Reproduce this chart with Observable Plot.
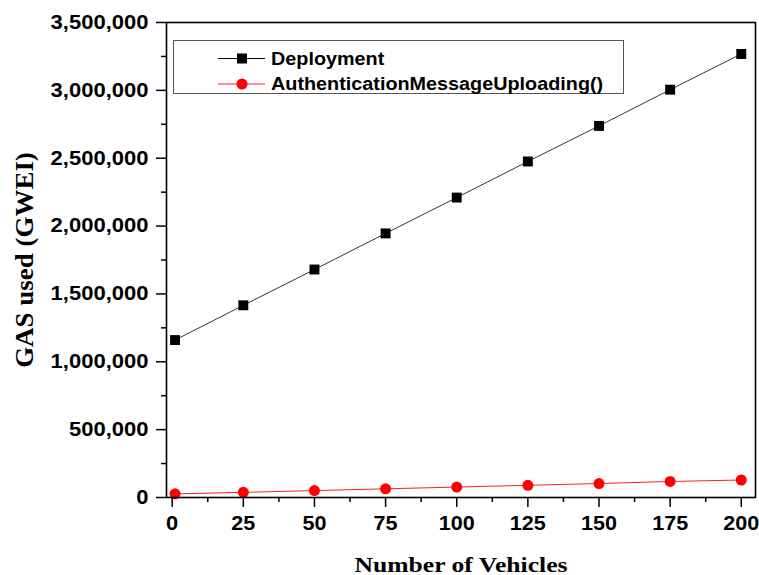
<!DOCTYPE html>
<html>
<head>
<meta charset="utf-8">
<script src="https://cdn.jsdelivr.net/npm/d3@7"></script>
<script src="https://cdn.jsdelivr.net/npm/@observablehq/plot@0.6"></script>
<style>
  html, body { margin: 0; padding: 0; background: #fff; }
  #wrap { position: relative; width: 759px; height: 575px; }
  #legend { position: absolute; left: 173px; top: 40px; width: 451px; height: 54px;
            border: 1px solid #555; box-sizing: border-box; background: #fff; }
  #legend svg { display: block; overflow: visible; }
</style>
</head>
<body>
<div id="wrap"><div id="legend"></div></div>
<script>
const vehicles = [1, 25, 50, 75, 100, 125, 150, 175, 200];
const deployment = [1160000, 1416000, 1680000, 1946000, 2210000, 2476000, 2738000, 3005000, 3268000];
const authUpload = [27000, 38000, 51000, 64000, 77000, 90000, 103000, 118000, 129000];
const seriesNames = ["Deployment", "AuthenticationMessageUploading()"];
const xTicks = [0, 25, 50, 75, 100, 125, 150, 175, 200];
const xMinor = [12.5, 37.5, 62.5, 87.5, 112.5, 137.5, 162.5, 187.5];
const yTicks = [0, 500000, 1000000, 1500000, 2000000, 2500000, 3000000, 3500000];
const yMinor = [250000, 750000, 1250000, 1750000, 2250000, 2750000, 3250000];
const xTitle = "Number of Vehicles";
const yTitle = "GAS used (GWEI)";

const dep = vehicles.map((v, i) => ({x: v, y: deployment[i]}));
const auth = vehicles.map((v, i) => ({x: v, y: authUpload[i]}));

const tickFont = "'Liberation Sans', Arial, sans-serif";
const titleFont = "'Liberation Serif', 'Times New Roman', serif";

const chart = Plot.plot({
  width: 759,
  height: 575,
  marginLeft: 166,
  marginRight: 4,
  marginTop: 22,
  marginBottom: 78,
  style: {fontFamily: tickFont, background: "#fff", overflow: "visible"},
  x: {domain: [-2, 205]},
  y: {domain: [0, 3500000]},
  marks: [
    Plot.line(dep, {x: "x", y: "y", stroke: "#000", strokeWidth: 0.8}),
    Plot.dot(dep, {x: "x", y: "y", symbol: "square", r: 5.6, fill: "#000", stroke: "none"}),
    Plot.line(auth, {x: "x", y: "y", stroke: "#ff2020", strokeWidth: 1}),
    Plot.dot(auth, {x: "x", y: "y", r: 5.5, fill: "#ff0000", stroke: "none"}),
    Plot.axisX({ticks: xTicks, tickSize: 10, tickPadding: 8, tickFormat: d3.format("d"),
      fontSize: 20, fontWeight: "bold", fill: "#000", stroke: "#000", strokeWidth: 1.5, label: null}),
    Plot.axisX({ticks: xMinor, tickSize: 5, tickFormat: () => "", stroke: "#000", strokeWidth: 1.5, label: null}),
    Plot.axisY({ticks: yTicks, tickSize: 10, tickPadding: 8, tickFormat: d3.format(","),
      fontSize: 20, fontWeight: "bold", fill: "#000", stroke: "#000", strokeWidth: 1.5, label: null}),
    Plot.axisY({ticks: yMinor, tickSize: 5, tickFormat: () => "", stroke: "#000", strokeWidth: 1.5, label: null}),
    Plot.frame({stroke: "#000", strokeWidth: 1.6}),
    Plot.text([xTitle], {frameAnchor: "bottom", dy: 74, fontSize: 21, fontWeight: "bold",
      fontFamily: titleFont, fill: "#000", lineAnchor: "bottom"}),
    Plot.text([yTitle], {frameAnchor: "left", dx: -141, rotate: -90, textAnchor: "middle", fontSize: 24.5,
      fontWeight: "bold", fontFamily: titleFont, fill: "#000"})
  ]
});
const wrap = document.getElementById("wrap");
wrap.insertBefore(chart, wrap.firstChild);

// Widen glyphs horizontally to match the reference's stretched text
function stretchEl(el, k) {
  const w = el.getComputedTextLength();
  if (w > 0) {
    el.setAttribute("textLength", (w * k).toFixed(1));
    el.setAttribute("lengthAdjust", "spacingAndGlyphs");
  }
}
chart.querySelectorAll("text").forEach(el => {
  const s = el.textContent.trim();
  if (!s) return;
  if (s === xTitle) stretchEl(el, 1.22);
  else if (s === yTitle) stretchEl(el, 1.1);
  else if (s.includes(",") || s === "0" && el.getAttribute("x") == null) stretchEl(el, 1.1);
  else if (/^\d+$/.test(s)) stretchEl(el, 1.08);
});

// Legend
const lg = d3.select("#legend").append("svg").attr("width", 449).attr("height", 52);
const rows = [
  {name: seriesNames[0], color: "#000", lineColor: "#000", shape: "square"},
  {name: seriesNames[1], color: "#ff0000", lineColor: "#ff2020", shape: "circle"}
];
rows.forEach((r, i) => {
  const cy = 17.5 + i * 25.5;
  lg.append("line").attr("x1", 44).attr("x2", 91).attr("y1", cy).attr("y2", cy)
    .attr("stroke", r.lineColor).attr("stroke-width", 1);
  if (r.shape === "square") {
    lg.append("rect").attr("x", 68 - 5).attr("y", cy - 5).attr("width", 10).attr("height", 10).attr("fill", r.color);
  } else {
    lg.append("circle").attr("cx", 68).attr("cy", cy).attr("r", 5.5).attr("fill", r.color);
  }
  const t = lg.append("text").attr("x", 97).attr("y", cy).attr("dy", "0.36em")
    .attr("font-family", tickFont).attr("font-weight", "bold").attr("font-size", 18)
    .attr("fill", "#000").text(r.name);
  const w = t.node().getComputedTextLength();
  t.attr("textLength", (w * 1.1).toFixed(1)).attr("lengthAdjust", "spacingAndGlyphs");
});
</script>
</body>
</html>
